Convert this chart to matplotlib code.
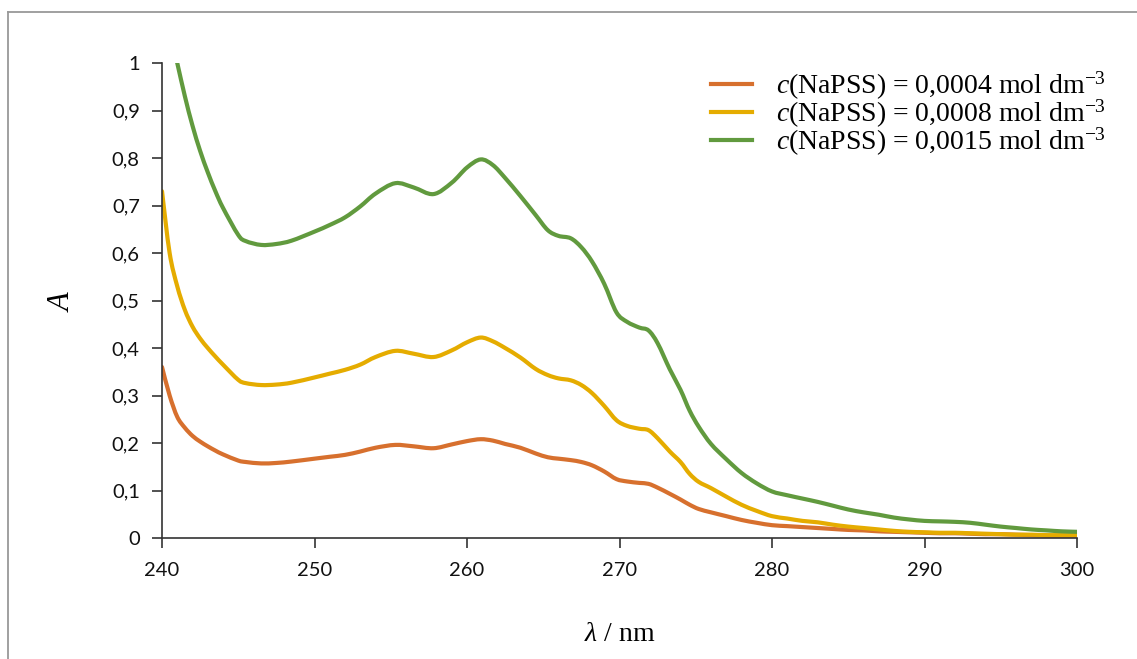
import matplotlib
matplotlib.use("Agg")
import matplotlib.pyplot as plt
from matplotlib.lines import Line2D
from matplotlib.path import Path
from matplotlib.patches import PathPatch

wavelength = [240, 240.5, 241, 241.5, 242, 242.5, 243, 243.5, 244, 245, 245.5, 246.5, 247.5, 248.5,
              250, 251, 252, 253, 254, 255.3, 256.5, 257.8, 259, 260, 260.9, 261.7, 262.5, 263.5,
              264.5, 265.3, 266, 266.8, 267.5, 268.2, 269, 269.8, 270.5, 271.3, 271.9, 272.5, 273.3,
              274, 274.6, 275.2, 276, 277, 278, 279, 280, 281, 282, 283, 284, 285, 286, 287, 288,
              289, 290, 291, 292, 293, 294, 295, 296, 297, 298, 299, 300]

A_0004 = [0.36, 0.30, 0.255, 0.232, 0.215, 0.203, 0.193, 0.184, 0.176, 0.163, 0.16, 0.157, 0.158, 0.161,
          0.167, 0.171, 0.175, 0.182, 0.19, 0.196, 0.193, 0.189, 0.197, 0.204, 0.208, 0.205, 0.198, 0.19,
          0.178, 0.170, 0.167, 0.164, 0.16, 0.153, 0.14, 0.124, 0.119, 0.116, 0.114, 0.106, 0.093,
          0.081, 0.07, 0.061, 0.054, 0.046, 0.038, 0.032, 0.027, 0.025, 0.023, 0.021, 0.019, 0.017, 0.016, 0.014, 0.013,
          0.012, 0.011, 0.01, 0.01, 0.009, 0.008, 0.008, 0.007, 0.006, 0.005, 0.005, 0.005]

A_0008 = [0.73, 0.60, 0.53, 0.48, 0.445, 0.42, 0.40, 0.382, 0.365, 0.333, 0.326, 0.322, 0.323, 0.327,
          0.338, 0.346, 0.354, 0.365, 0.381, 0.394, 0.388, 0.381, 0.395, 0.412, 0.422, 0.414, 0.40, 0.38,
          0.356, 0.343, 0.336, 0.332, 0.322, 0.305, 0.278, 0.248, 0.236, 0.230, 0.227, 0.21, 0.182,
          0.16, 0.135, 0.118, 0.105, 0.087, 0.07, 0.057, 0.046, 0.041, 0.036, 0.033, 0.028, 0.024, 0.021, 0.018, 0.015,
          0.013, 0.012, 0.011, 0.011, 0.01, 0.009, 0.008, 0.007, 0.007, 0.006, 0.006, 0.006]

A_0015 = [1.15, 1.07, 1.00, 0.93, 0.868, 0.815, 0.77, 0.73, 0.695, 0.638, 0.625, 0.617, 0.619, 0.626,
          0.645, 0.659, 0.675, 0.698, 0.725, 0.747, 0.738, 0.724, 0.748, 0.78, 0.797, 0.785, 0.758, 0.72,
          0.68, 0.648, 0.636, 0.631, 0.612, 0.582, 0.535, 0.475, 0.455, 0.443, 0.437, 0.41, 0.355,
          0.312, 0.268, 0.234, 0.198, 0.166, 0.137, 0.115, 0.098, 0.09, 0.083, 0.076, 0.068, 0.06, 0.054, 0.049, 0.043,
          0.039, 0.036, 0.035, 0.034, 0.032, 0.028, 0.024, 0.021, 0.018, 0.016, 0.014, 0.013]

labels = ["0,0004", "0,0008", "0,0015"]
colors = ["#D7702E", "#E5AC00", "#619A3E"]
x_ticks = [240, 250, 260, 270, 280, 290, 300]
y_ticks = [0, 0.1, 0.2, 0.3, 0.4, 0.5, 0.6, 0.7, 0.8, 0.9, 1.0]
y_ticklabels = ["0", "0,1", "0,2", "0,3", "0,4", "0,5", "0,6", "0,7", "0,8", "0,9", "1"]

plt.rcParams['mathtext.fontset'] = 'custom'
plt.rcParams['mathtext.rm'] = 'Liberation Serif'
plt.rcParams['mathtext.it'] = 'Liberation Serif:italic'


def smooth_path(xs, ys):
    """Catmull-Rom style smooth curve (like Excel 'smoothed line') through the data points."""
    verts = [(xs[0], ys[0])]
    codes = [Path.MOVETO]
    n = len(xs)
    for i in range(n - 1):
        x0, y0 = (xs[i - 1], ys[i - 1]) if i > 0 else (xs[i], ys[i])
        x1, y1 = xs[i], ys[i]
        x2, y2 = xs[i + 1], ys[i + 1]
        x3, y3 = (xs[i + 2], ys[i + 2]) if i + 2 < n else (x2, y2)
        c1 = (x1 + (x2 - x0) / 6.0, y1 + (y2 - y0) / 6.0)
        c2 = (x2 - (x3 - x1) / 6.0, y2 - (y3 - y1) / 6.0)
        verts += [c1, c2, (x2, y2)]
        codes += [Path.CURVE4] * 3
    return Path(verts, codes)


fig = plt.figure(figsize=(11.37, 6.59), dpi=100)
ax = fig.add_axes([162/1137, 1-538/659, (1077-162)/1137, (538-63)/659])

handles = []
for vals, lab, col in zip([A_0004, A_0008, A_0015], labels, colors):
    patch = PathPatch(smooth_path(wavelength, vals), facecolor='none', edgecolor=col, lw=3,
                      capstyle='round', joinstyle='round', transform=ax.transData)
    ax.add_patch(patch)
    h, = ax.plot([], [], color=col, lw=3,
                 label=r'$c$(NaPSS) = ' + lab + ' mol dm$^{\u22123}$')
    handles.append(h)

ax.set_xlim(240, 300)
ax.set_ylim(0, 1)
ax.set_xticks(x_ticks)
ax.set_xticklabels([str(t) for t in x_ticks])
ax.set_yticks(y_ticks)
ax.set_yticklabels(y_ticklabels)
for s in ['top', 'right']:
    ax.spines[s].set_visible(False)
for s in ['left', 'bottom']:
    ax.spines[s].set_color('#333333')
    ax.spines[s].set_linewidth(1.2)
ax.tick_params(direction='out', length=7, width=1.2, color='#333333', labelsize=14.5)
ax.tick_params(axis='x', pad=10)
ax.tick_params(axis='y', pad=9)
for lbl in ax.get_xticklabels() + ax.get_yticklabels():
    lbl.set_fontfamily('Lato')
    lbl.set_color('#111111')

ax.set_xlabel(r'$\lambda$ / nm', fontsize=20, fontfamily='Liberation Serif', labelpad=31)
ax.set_ylabel(r'$A$', fontsize=22, fontfamily='Liberation Serif', labelpad=26)

leg = ax.legend(handles=handles, loc='upper right', bbox_to_anchor=(1106/1137, 1-70/659),
                bbox_transform=fig.transFigure, frameon=False, fontsize=20, handlelength=1.5,
                handletextpad=0.85, labelspacing=-0.15, borderpad=0, borderaxespad=0)
for t in leg.get_texts():
    t.set_fontfamily('Liberation Serif')

fig.add_artist(Line2D([8/1137, 8/1137], [0, 1-12/659], transform=fig.transFigure, color='#999999', lw=1.3))
fig.add_artist(Line2D([8/1137, 1], [1-12/659, 1-12/659], transform=fig.transFigure, color='#999999', lw=1.3))

fig.savefig('out.png', dpi=100)
